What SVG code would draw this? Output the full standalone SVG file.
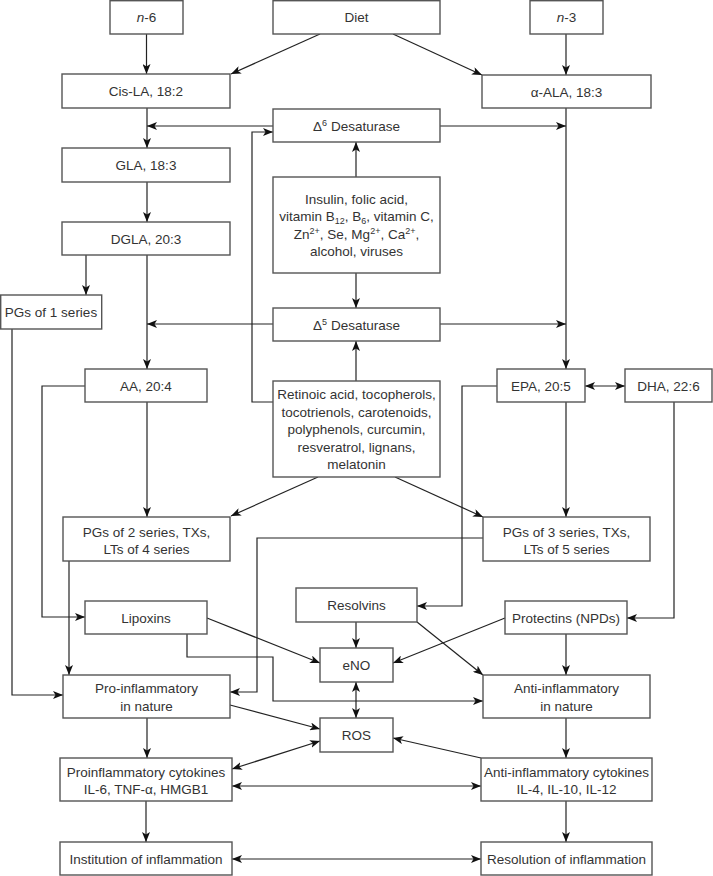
<svg xmlns="http://www.w3.org/2000/svg" width="713" height="876" viewBox="0 0 713 876">
<style>
.b{fill:#fff;stroke:#555;stroke-width:1.4}
.t{font-family:"Liberation Sans",Arial,sans-serif;font-size:13.5px;fill:#333;text-anchor:middle}
.c path{fill:none;stroke:#222;stroke-width:1.2;marker-end:url(#a)}
.c path.n{marker-end:none}
.c path.d{marker-start:url(#a)}
.s{font-size:9px}
</style>
<defs>
<marker id="a" viewBox="0 0 10 8" refX="10" refY="4" markerWidth="10" markerHeight="8" markerUnits="userSpaceOnUse" orient="auto-start-reverse">
<path d="M0,0 L10,4 L0,8 L2.5,4 z" fill="#111"/>
</marker>
</defs>
<rect width="713" height="876" fill="#fff"/>
<g class="c" id="connectors">
<path d="M146.5,34 V74"/>
<path d="M320,34 L231,74"/>
<path d="M393,34 L482,75"/>
<path d="M566,34 V75"/>
<path d="M147,108 V148"/>
<path d="M273,126 H147"/>
<path d="M440,126 H566"/>
<path d="M566,108 V369"/>
<path d="M147,182 V222"/>
<path d="M86,255 V295"/>
<path d="M147,255 V369"/>
<path d="M273,324 H147"/>
<path d="M440,324 H566"/>
<path d="M356,177 V142"/>
<path d="M356,273 V308"/>
<path d="M356,381 V341"/>
<path d="M273,402 H252 V132 H273"/>
<path d="M318,477 L231,516"/>
<path d="M395,477 L483,517"/>
<path d="M147,402 V517"/>
<path d="M85,386 H42 V617 H85"/>
<path d="M566,402 V517"/>
<path class="d" d="M585,386 H625"/>
<path d="M497,386 H462 V606 H417"/>
<path d="M674,402 V618 H627"/>
<path d="M12,329 V695 H63"/>
<path d="M69,561 V675"/>
<path d="M483,538 H257 V692 H230"/>
<path d="M207,618 L320,663"/>
<path d="M187,634 V657 H273 V701 H483"/>
<path d="M356,622 V648"/>
<path d="M417,622 L483,675"/>
<path d="M505,618 L393,663"/>
<path d="M566,634 V675"/>
<path class="d" d="M356,682 V718"/>
<path d="M230,705 L320,729"/>
<path class="d" d="M232,769 L320,741"/>
<path d="M481,758 L393,738"/>
<path d="M566,718 V758"/>
<path d="M147,718 V758"/>
<path class="d" d="M232,786 H481"/>
<path d="M146,801 V842"/>
<path d="M566,801 V842"/>
<path class="d" d="M232,859 H481"/>
</g>
<g id="n6"><rect class="b" x="110" y="0.7" width="73" height="33.3"/><text class="t" x="146.5" y="22"><tspan font-style="italic">n</tspan>-6</text></g>
<g id="diet"><rect class="b" x="273" y="0.7" width="167" height="33.3"/><text class="t" x="356.5" y="22">Diet</text></g>
<g id="n3"><rect class="b" x="530" y="0.7" width="73" height="33.3"/><text class="t" x="566.5" y="22"><tspan font-style="italic">n</tspan>-3</text></g>
<g id="cisla"><rect class="b" x="62" y="74" width="168" height="34"/><text class="t" x="146" y="96">Cis-LA, 18:2</text></g>
<g id="ala"><rect class="b" x="482" y="75" width="169" height="33"/><text class="t" x="566.5" y="96.5">α-ALA, 18:3</text></g>
<g id="d6"><rect class="b" x="273" y="109" width="167" height="33"/><text class="t" x="356.5" y="130.5">Δ<tspan class="s" dy="-5">6</tspan><tspan dy="5"> Desaturase</tspan></text></g>
<g id="gla"><rect class="b" x="62" y="148" width="168" height="34"/><text class="t" x="146" y="169.5">GLA, 18:3</text></g>
<g id="dgla"><rect class="b" x="62" y="222" width="168" height="33"/><text class="t" x="146" y="243.5">DGLA, 20:3</text></g>
<g id="insulin"><rect class="b" x="273" y="177" width="167" height="96"/>
<text class="t" x="356.5" y="203.5">Insulin, folic acid,</text>
<text class="t" x="356.5" y="221">vitamin B<tspan class="s" dy="3">12</tspan><tspan dy="-3">, B</tspan><tspan class="s" dy="3">6</tspan><tspan dy="-3">, vitamin C,</tspan></text>
<text class="t" x="356.5" y="238.5">Zn<tspan class="s" dy="-5">2+</tspan><tspan dy="5">, Se, Mg</tspan><tspan class="s" dy="-5">2+</tspan><tspan dy="5">, Ca</tspan><tspan class="s" dy="-5">2+</tspan><tspan dy="5">,</tspan></text>
<text class="t" x="356.5" y="256">alcohol, viruses</text></g>
<g id="d5"><rect class="b" x="273" y="308" width="167" height="33"/><text class="t" x="356.5" y="329.5">Δ<tspan class="s" dy="-5">5</tspan><tspan dy="5"> Desaturase</tspan></text></g>
<g id="pgs1"><rect class="b" x="0.7" y="295" width="101" height="34"/><text class="t" x="51" y="316.5">PGs of 1 series</text></g>
<g id="aa"><rect class="b" x="85" y="369" width="122" height="33"/><text class="t" x="146" y="390.5">AA, 20:4</text></g>
<g id="retinoic"><rect class="b" x="273" y="381" width="167" height="96"/>
<text class="t" x="356.5" y="399">Retinoic acid, tocopherols,</text>
<text class="t" x="356.5" y="416.5">tocotrienols, carotenoids,</text>
<text class="t" x="356.5" y="434">polyphenols, curcumin,</text>
<text class="t" x="356.5" y="451.5">resveratrol, lignans,</text>
<text class="t" x="356.5" y="469">melatonin</text></g>
<g id="epa"><rect class="b" x="497" y="369" width="88" height="33"/><text class="t" x="541" y="390.5">EPA, 20:5</text></g>
<g id="dha"><rect class="b" x="625" y="369" width="87" height="33"/><text class="t" x="668.5" y="390.5">DHA, 22:6</text></g>
<g id="pgs2"><rect class="b" x="63" y="517" width="167" height="44"/><text class="t" x="146.5" y="536.5">PGs of 2 series, TXs,</text><text class="t" x="146.5" y="553.5">LTs of 4 series</text></g>
<g id="pgs3"><rect class="b" x="483" y="517" width="167" height="44"/><text class="t" x="566.5" y="536.5">PGs of 3 series, TXs,</text><text class="t" x="566.5" y="553.5">LTs of 5 series</text></g>
<g id="lipoxins"><rect class="b" x="85" y="601" width="122" height="33"/><text class="t" x="146" y="622.5">Lipoxins</text></g>
<g id="resolvins"><rect class="b" x="296" y="588" width="121" height="34"/><text class="t" x="356.5" y="609.5">Resolvins</text></g>
<g id="protectins"><rect class="b" x="505" y="601" width="122" height="33"/><text class="t" x="566" y="622.5">Protectins (NPDs)</text></g>
<g id="eno"><rect class="b" x="320" y="648" width="73" height="34"/><text class="t" x="356.5" y="669.5">eNO</text></g>
<g id="proinf"><rect class="b" x="63" y="675" width="167" height="43"/><text class="t" x="146.5" y="693">Pro-inflammatory</text><text class="t" x="146.5" y="710.5">in nature</text></g>
<g id="antiinf"><rect class="b" x="483" y="675" width="167" height="43"/><text class="t" x="566.5" y="693">Anti-inflammatory</text><text class="t" x="566.5" y="710.5">in nature</text></g>
<g id="ros"><rect class="b" x="320" y="718" width="73" height="34"/><text class="t" x="356.5" y="739.5">ROS</text></g>
<g id="procyt"><rect class="b" x="60" y="758" width="172" height="43"/><text class="t" x="146" y="777">Proinflammatory cytokines</text><text class="t" x="146" y="794">IL-6, TNF-α, HMGB1</text></g>
<g id="anticyt"><rect class="b" x="481" y="758" width="171" height="43"/><text class="t" x="566.5" y="777">Anti-inflammatory cytokines</text><text class="t" x="566.5" y="794">IL-4, IL-10, IL-12</text></g>
<g id="inst"><rect class="b" x="60" y="842" width="172" height="33"/><text class="t" x="146" y="863.5">Institution of inflammation</text></g>
<g id="resol"><rect class="b" x="481" y="842" width="171" height="33"/><text class="t" x="566.5" y="863.5">Resolution of inflammation</text></g>
</svg>
